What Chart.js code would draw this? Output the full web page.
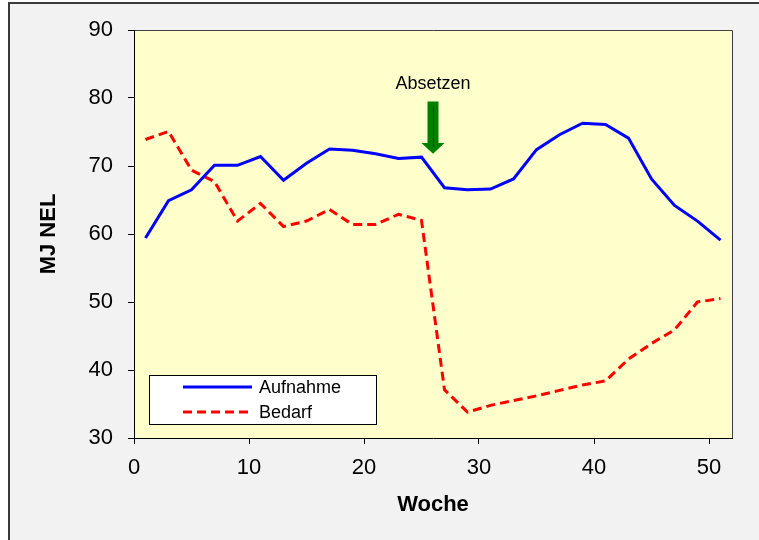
<!DOCTYPE html>
<html>
<head>
<meta charset="utf-8">
<script src="https://cdn.jsdelivr.net/npm/chart.js@4/dist/chart.umd.min.js"></script>
<style>
  body { margin: 0; background: #ffffff; }
  #wrap { width: 759px; height: 540px; position: relative; }
</style>
</head>
<body>
<div id="wrap"><canvas id="chart"></canvas></div>
<script>
// Daten
const wochen = [1, 3, 5, 7, 9, 11, 13, 15, 17, 19, 21, 23, 25, 27, 29, 31, 33, 35, 37, 39, 41, 43, 45, 47, 49, 51];
const aufnahme = [59.4, 64.9, 66.5, 70.1, 70.1, 71.4, 67.9, 70.4, 72.5, 72.3, 71.8, 71.1, 71.3, 66.8, 66.5, 66.6, 68.1, 72.4, 74.6, 76.3, 76.1, 74.1, 68.1, 64.2, 61.9, 59.1];
const bedarf = [73.9, 75.1, 69.4, 67.7, 61.9, 64.5, 61.1, 61.9, 63.6, 61.4, 61.4, 62.9, 62.0, 37.1, 33.8, 34.8, 35.5, 36.2, 37.0, 37.8, 38.4, 41.6, 43.9, 45.9, 50.0, 50.5];
const xTicks = [0, 10, 20, 30, 40, 50];
const yTicks = [30, 40, 50, 60, 70, 80, 90];

// Annotation "Absetzen"
const absetzenWoche = 26;
const absetzenText = 82.1;
const pfeilOben = 79.5;
const pfeilKopf = 73.4;
const pfeilSpitze = 71.8;

const fontFamily = '"Liberation Sans", Arial, sans-serif';

function toPoints(xs, ys) {
    return xs.map((x, i) => ({ x: x, y: ys[i] }));
}

// Hintergrund, Rahmen, Zeichenfläche
const hintergrund = {
    id: 'hintergrund',
    beforeDraw(chart) {
        const { ctx, chartArea: a, width, height } = chart;
        ctx.save();
        ctx.fillStyle = '#ffffff';
        ctx.fillRect(0, 0, width, height);
        ctx.fillStyle = '#f2f2f2';
        ctx.fillRect(9, 3, width - 9, height - 3);
        ctx.strokeStyle = '#3a3a3a';
        ctx.lineWidth = 2;
        ctx.beginPath();
        ctx.moveTo(9, height);
        ctx.lineTo(9, 3);
        ctx.lineTo(width, 3);
        ctx.stroke();
        ctx.fillStyle = '#ffffcc';
        ctx.fillRect(a.left, a.top, a.right - a.left, a.bottom - a.top);
        ctx.strokeStyle = '#404040';
        ctx.lineWidth = 1;
        ctx.beginPath();
        ctx.moveTo(a.left, a.top + 0.5);
        ctx.lineTo(a.right + 0.5, a.top + 0.5);
        ctx.lineTo(a.right + 0.5, a.bottom);
        ctx.stroke();
        ctx.restore();
    }
};

// Pfeil + Legende
const extras = {
    id: 'extras',
    afterDatasetsDraw(chart) {
        const { ctx, chartArea: a } = chart;
        const xs = chart.scales.x;
        const ys = chart.scales.y;
        ctx.save();

        const px = xs.getPixelForValue(absetzenWoche);
        const yTop = ys.getPixelForValue(pfeilOben);
        const yHead = ys.getPixelForValue(pfeilKopf);
        const yTip = ys.getPixelForValue(pfeilSpitze);
        ctx.fillStyle = '#008000';
        ctx.beginPath();
        ctx.moveTo(px - 5.5, yTop);
        ctx.lineTo(px + 5.5, yTop);
        ctx.lineTo(px + 5.5, yHead);
        ctx.lineTo(px + 11.5, yHead);
        ctx.lineTo(px, yTip);
        ctx.lineTo(px - 11.5, yHead);
        ctx.lineTo(px - 5.5, yHead);
        ctx.closePath();
        ctx.fill();
        ctx.strokeStyle = '#0b3d0b';
        ctx.lineWidth = 1;
        ctx.beginPath();
        ctx.moveTo(px + 0.5, yTop + 5);
        ctx.lineTo(px + 0.5, yHead + 4);
        ctx.stroke();

        ctx.fillStyle = '#000000';
        ctx.font = '18px ' + fontFamily;
        ctx.textAlign = 'center';
        ctx.textBaseline = 'middle';
        ctx.fillText('Absetzen', px, ys.getPixelForValue(absetzenText));

        // Legende unten links in der Zeichenfläche
        const lx = a.left + 15, lw = 227, lh = 49;
        const ly = a.bottom - 14 - lh;
        ctx.fillStyle = '#ffffff';
        ctx.fillRect(lx, ly, lw, lh);
        ctx.strokeStyle = '#000000';
        ctx.strokeRect(lx + 0.5, ly + 0.5, lw, lh);
        ctx.textAlign = 'left';
        chart.data.datasets.forEach((ds, i) => {
            const ry = ly + 12 + i * 25;
            ctx.strokeStyle = ds.borderColor;
            ctx.lineWidth = ds.borderWidth;
            ctx.setLineDash(ds.borderDash || []);
            ctx.beginPath();
            ctx.moveTo(lx + 34, ry);
            ctx.lineTo(lx + 103, ry);
            ctx.stroke();
            ctx.setLineDash([]);
            ctx.fillStyle = '#000000';
            ctx.fillText(ds.label, lx + 110, ry + 1);
        });
        ctx.restore();
    }
};

new Chart(document.getElementById('chart'), {
    type: 'line',
    data: {
        datasets: [{
            label: 'Aufnahme',
            data: toPoints(wochen, aufnahme),
            borderColor: '#0000ff',
            borderWidth: 3,
            pointRadius: 0,
            tension: 0
        }, {
            label: 'Bedarf',
            data: toPoints(wochen, bedarf),
            borderColor: '#ff0000',
            borderWidth: 3,
            borderDash: [9, 5],
            pointRadius: 0,
            tension: 0
        }]
    },
    options: {
        responsive: true,
        maintainAspectRatio: false,
        animation: false,
        layout: { padding: { top: 30, right: 27, left: 0, bottom: 0 } },
        plugins: {
            legend: { display: false },
            tooltip: { enabled: false }
        },
        scales: {
            x: {
                type: 'linear',
                min: 0,
                max: 52,
                afterBuildTicks: s => { s.ticks = xTicks.map(v => ({ value: v })); },
                afterFit: s => { s.height = 102; },
                grid: { drawOnChartArea: false, tickLength: 6, color: '#000000' },
                border: { color: '#000000', width: 1 },
                ticks: { color: '#000000', padding: 11, maxRotation: 0, font: { family: fontFamily, size: 22 } },
                title: {
                    display: true,
                    text: 'Woche',
                    color: '#000000',
                    padding: { top: 0, bottom: 22 },
                    font: { family: fontFamily, size: 22, weight: 'bold' }
                }
            },
            y: {
                min: 30,
                max: 90,
                afterBuildTicks: s => { s.ticks = yTicks.map(v => ({ value: v })); },
                afterFit: s => { s.width = 134; },
                grid: { drawOnChartArea: false, tickLength: 6, color: '#000000' },
                border: { color: '#000000', width: 1 },
                ticks: { color: '#000000', padding: 15, font: { family: fontFamily, size: 22 } },
                title: {
                    display: true,
                    text: 'MJ NEL',
                    color: '#000000',
                    padding: { top: 36, bottom: 0 },
                    font: { family: fontFamily, size: 22, weight: 'bold' }
                }
            }
        }
    },
    plugins: [hintergrund, extras]
});
</script>
</body>
</html>
